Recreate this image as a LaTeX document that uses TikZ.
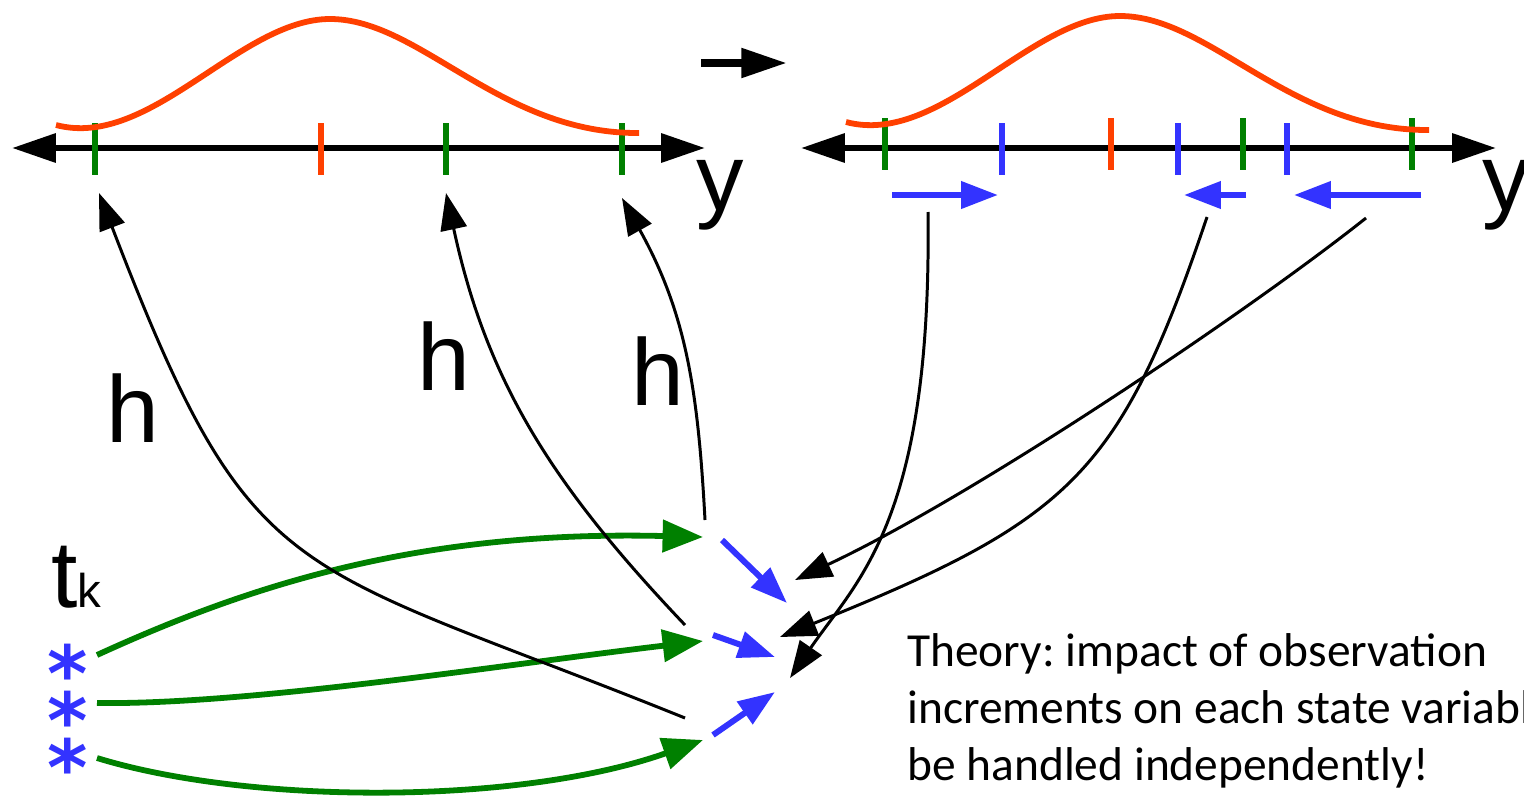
\documentclass[tikz,border=0pt]{standalone}
\usepackage{fontspec}
\setmainfont{Liberation Sans}
\newfontfamily\notefont{Carlito}
\newfontfamily\starfont{DejaVu Sans}
\usetikzlibrary{arrows.meta}
\definecolor{bellred}{RGB}{255,64,0}
\definecolor{obsgreen}{RGB}{0,128,0}
\definecolor{incblue}{RGB}{51,51,255}
\newcommand\ensstar{\raisebox{0pt}[0.78em][-0.36em]{*}}
\frenchspacing
\begin{document}
\begin{tikzpicture}[x=0.02cm, y=-0.02cm, line join=round,
  axisline/.style={line width=3.5pt, {Triangle[length=25pt,width=16pt]}-{Triangle[length=25pt,width=16pt]}},
  tickmark/.style={line width=3pt},
  bell/.style={line width=3.3pt, bellred},
  harrow/.style={line width=1.7pt, -{Triangle[length=21pt,width=15pt]}},
  garrow/.style={line width=3.3pt, obsgreen, -{Triangle[length=23pt,width=18pt]}},
  barrow/.style={line width=3.4pt, incblue, -{Triangle[length=21pt,width=15pt]}},
  lab/.style={inner sep=0pt, anchor=base west, font=\fontsize{54}{60}\selectfont},
  ens/.style={inner sep=0pt, text=incblue, font=\starfont\bfseries\fontsize{44}{44}\selectfont},
  note/.style={inner sep=0pt, anchor=base west, align=left, font=\notefont\fontsize{27}{32.3}\selectfont}]
\useasboundingbox (0,0) rectangle (1524,798);
\coordinate (la) at (12,148); \coordinate (lb) at (705,148);
\coordinate (ra) at (801,148); \coordinate (rb) at (1496,148);
\draw[axisline] (la) -- (lb);
\draw[axisline] (ra) -- (rb);
\foreach \x in {95,446,622} \draw[tickmark, obsgreen] (\x,123) -- (\x,175);
\draw[tickmark, bellred] (321,123) -- (321,175);
\foreach \x in {885,1243,1412} \draw[tickmark, obsgreen] (\x,118) -- (\x,170);
\foreach \x in {1002,1178,1287} \draw[tickmark, incblue] (\x,123) -- (\x,175);
\draw[tickmark, bellred] (1111,118) -- (1111,170);
\draw[bell] (56,125) .. controls (150,150) and (240,19) .. (330,19) .. controls (420,19) and (500,134) .. (639,133);
\draw[bell] (846,122) .. controls (940,147) and (1030,16) .. (1120,16) .. controls (1210,16) and (1290,131) .. (1429,130);
\node[lab] (yl) at (696,210) {y};
\node[lab] (yr) at (1482,210) {y};
\coordinate (na) at (701,63); \coordinate (nb) at (787,63);
\draw[line width=4.5pt, -{Triangle[length=26pt,width=16pt]}] (na) -- (nb);
\coordinate (d1a) at (892,195); \coordinate (d1b) at (998,195);
\coordinate (d2a) at (1246,195); \coordinate (d2b) at (1184,195);
\coordinate (d3a) at (1421,195); \coordinate (d3b) at (1294,195);
\draw[barrow] (d1a) -- (d1b);
\draw[barrow] (d2a) -- (d2b);
\draw[barrow] (d3a) -- (d3b);
\node[lab] (tk) at (51,607) {t{\fontsize{27}{30}\selectfont k}};
\node[ens] (s1) at (68,671) {\ensstar};
\node[ens] (s2) at (68,718) {\ensstar};
\node[ens] (s3) at (68,765) {\ensstar};
\coordinate (g1a) at (97,655); \coordinate (g1b) at (703,537);
\coordinate (g2a) at (97,703); \coordinate (g2b) at (703,641);
\coordinate (g3a) at (97,758); \coordinate (g3b) at (703,740);
\draw[garrow] (g1a) .. controls +(153,-70) and +(-283,-7) .. (g1b);
\draw[garrow] (g2a) .. controls +(153,2) and +(-203,24) .. (g2b);
\draw[garrow] (g3a) .. controls +(153,47) and +(-183,65) .. (g3b);
\coordinate (h1a) at (685,718); \coordinate (h1b) at (99,193);
\coordinate (h2a) at (685,625); \coordinate (h2b) at (446,193);
\coordinate (h3a) at (705,520); \coordinate (h3b) at (622,198);
\draw[harrow] (h1a) .. controls +(-399,-161) and +(154,401) .. (h1b);
\draw[harrow] (h2a) .. controls +(-132,-139) and +(41,190) .. (h2b);
\draw[harrow] (h3a) .. controls +(-7,-130) and +(64,115) .. (h3b);
\node[lab] (hl1) at (106,442) {h};
\node[lab] (hl2) at (417,390) {h};
\node[lab] (hl3) at (631,405) {h};
\coordinate (i1a) at (722,540); \coordinate (i1b) at (787,603);
\coordinate (i2a) at (713,635); \coordinate (i2b) at (775,657);
\coordinate (i3a) at (713,735); \coordinate (i3b) at (775,692);
\draw[barrow] (i1a) -- (i1b);
\draw[barrow] (i2a) -- (i2b);
\draw[barrow] (i3a) -- (i3b);
\coordinate (r1a) at (928,212); \coordinate (r1b) at (790,678);
\coordinate (r2a) at (1207,217); \coordinate (r2b) at (780,637);
\coordinate (r3a) at (1366,218); \coordinate (r3b) at (795,580);
\draw[harrow] (r1a) .. controls +(4,308) and +(68,-99) .. (r1b);
\draw[harrow] (r2a) .. controls +(-87,258) and +(290,-117) .. (r2b);
\draw[harrow] (r3a) .. controls +(-117,93) and +(181,-85) .. (r3b);
\node[note] (theory) at (907,780) {Theory: impact of observation\\increments on each state variable\\be handled independently!};
\end{tikzpicture}
\end{document}
